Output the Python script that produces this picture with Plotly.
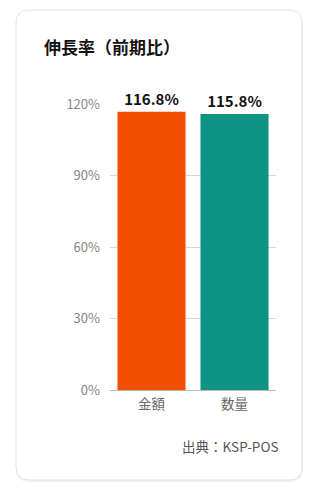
import plotly.graph_objects as go

categories = ["金額", "数量"]
values = [116.8, 115.8]
colors = ["#F24E00", "#0E9484"]
tick_vals = [0, 30, 60, 90, 120]
tick_text = ["0%", "30%", "60%", "90%", "120%"]
title_text = "伸長率（前期比）"
source_text = "出典：KSP-POS"

W, H = 316, 496
L, R, T, B = 110, 40, 104, 106
FONT = "Noto Sans CJK JP"

def px(x):
    return (x - L) / (W - L - R)

def py(y):
    return (H - B - y) / (H - T - B)

def rounded(x0, y0, x1, y1, r):
    p = []
    p.append(f"M {px(x0 + r)} {py(y0)}")
    p.append(f"L {px(x1 - r)} {py(y0)}")
    p.append(f"Q {px(x1)} {py(y0)} {px(x1)} {py(y0 + r)}")
    p.append(f"L {px(x1)} {py(y1 - r)}")
    p.append(f"Q {px(x1)} {py(y1)} {px(x1 - r)} {py(y1)}")
    p.append(f"L {px(x0 + r)} {py(y1)}")
    p.append(f"Q {px(x0)} {py(y1)} {px(x0)} {py(y1 - r)}")
    p.append(f"L {px(x0)} {py(y0 + r)}")
    p.append(f"Q {px(x0)} {py(y0)} {px(x0 + r)} {py(y0)}")
    p.append("Z")
    return " ".join(p)

fig = go.Figure(go.Bar(
    x=categories, y=values,
    marker=dict(color=colors, line=dict(width=0)),
    text=[f"{v:.1f}%" for v in values],
    textposition="outside",
    textfont=dict(family=FONT, size=15, color="#111111"),
    texttemplate="<b>%{text}</b>",
    cliponaxis=False,
    hoverinfo="skip",
))

shapes = [
    dict(type="path", xref="paper", yref="paper", layer="below",
         path=rounded(16, 12, 303, 482, 14), fillcolor="#f1f1f1", line=dict(width=0)),
    dict(type="path", xref="paper", yref="paper", layer="below",
         path=rounded(16, 10, 302, 480, 13), fillcolor="#ffffff",
         line=dict(color="#e3e3e3", width=1)),
]

fig.update_layout(
    width=W, height=H,
    margin=dict(l=L, r=R, t=T, b=B, pad=0),
    paper_bgcolor="#ffffff", plot_bgcolor="rgba(0,0,0,0)",
    showlegend=False,
    bargap=0.18,
    shapes=shapes,
    font=dict(family=FONT),
    xaxis=dict(tickfont=dict(family=FONT, size=13.5, color="#666666"),
               showgrid=False, showline=False, ticks="", ticklabelstandoff=4),
    yaxis=dict(range=[0, 120], tickvals=tick_vals, ticktext=tick_text,
               tickfont=dict(family=FONT, size=13, color="#858585"),
               showgrid=True, gridcolor="#d6d6d6", gridwidth=1,
               zeroline=True, zerolinecolor="#bbbbbb", zerolinewidth=1,
               showline=False, ticks="", ticklabelstandoff=9),
    annotations=[
        dict(text=f"<b>{title_text}</b>", xref="paper", yref="paper",
             x=px(42), y=py(47), xanchor="left", yanchor="middle", showarrow=False,
             font=dict(family=FONT, size=17, color="#111111")),
        dict(text=source_text, xref="paper", yref="paper",
             x=px(280), y=py(446), xanchor="right", yanchor="middle", showarrow=False,
             font=dict(family=FONT, size=13.5, color="#555555")),
    ],
)

fig.write_html("out.html")
